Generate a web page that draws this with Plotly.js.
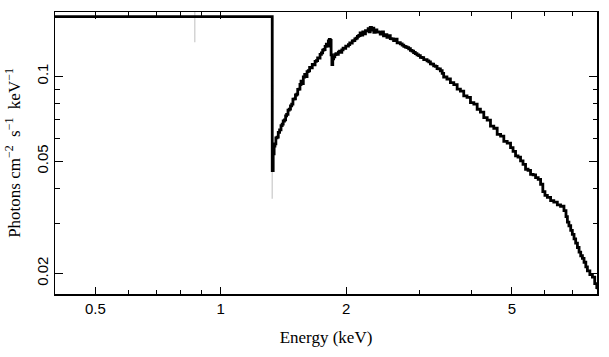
<!DOCTYPE html>
<html>
<head>
<meta charset="utf-8">
<script src="https://cdn.plot.ly/plotly-3.0.1.min.js"></script>
<style>html,body{margin:0;padding:0;background:#fff;}#chart{width:609px;height:357px;}</style>
</head>
<body>
<div id="chart"></div>
<script>
// Energy (keV) bin starts and unfolded flux (photons cm^-2 s^-1 keV^-1)
const energy = [
  0.39, 1.329, 1.336, 1.343, 1.349, 1.356, 1.365, 1.374, 1.384, 1.395, 1.404, 1.412,
  1.422, 1.431, 1.439, 1.450, 1.460, 1.470, 1.480, 1.490, 1.500, 1.511, 1.522, 1.530,
  1.540, 1.549, 1.558, 1.566, 1.578, 1.590, 1.600, 1.611, 1.622, 1.634, 1.646, 1.658,
  1.671, 1.684, 1.696, 1.708, 1.720, 1.731, 1.744, 1.756, 1.768, 1.780, 1.792, 1.802,
  1.812, 1.822, 1.831, 1.840, 1.848, 1.857, 1.866, 1.878, 1.890, 1.902, 1.915, 1.928,
  1.940, 1.952, 1.966, 1.980, 1.995, 2.010, 2.025, 2.040, 2.055, 2.068, 2.082, 2.098,
  2.113, 2.128, 2.144, 2.160, 2.176, 2.192, 2.208, 2.225, 2.242, 2.258, 2.270, 2.284,
  2.300, 2.315, 2.330, 2.350, 2.370, 2.392, 2.414, 2.436, 2.458, 2.480, 2.505, 2.528,
  2.552, 2.575, 2.599, 2.625, 2.650, 2.675, 2.697, 2.725, 2.750, 2.775, 2.799, 2.825,
  2.852, 2.878, 2.903, 2.930, 2.958, 2.985, 3.013, 3.042, 3.070, 3.100, 3.127, 3.157,
  3.186, 3.215, 3.243, 3.275, 3.305, 3.335, 3.366, 3.400, 3.428, 3.490, 3.558, 3.625,
  3.693, 3.760, 3.830, 3.900, 3.975, 4.050, 4.125, 4.200, 4.279, 4.360, 4.440, 4.522,
  4.608, 4.695, 4.780, 4.870, 4.961, 5.030, 5.100, 5.170, 5.243, 5.315, 5.390, 5.465,
  5.541, 5.620, 5.697, 5.780, 5.857, 5.930, 6.000, 6.080, 6.191, 6.300, 6.425, 6.540,
  6.665, 6.740, 6.792, 6.850, 6.918, 6.980, 7.046, 7.110, 7.180, 7.245, 7.311, 7.380,
  7.447, 7.520, 7.586, 7.690, 7.800, 7.900, 7.990, 8.050
];
const flux = [
  0.1627, 0.0463, 0.0531, 0.0565, 0.0576, 0.0605, 0.0608, 0.0632, 0.0645, 0.0668, 0.0676, 0.0694,
  0.0700, 0.0724, 0.0733, 0.0758, 0.0765, 0.0785, 0.0796, 0.0830, 0.0832, 0.0858, 0.0864, 0.0898,
  0.0900, 0.0935, 0.0960, 0.0942, 0.0994, 0.1015, 0.0998, 0.1038, 0.1046, 0.1075, 0.1072, 0.1102,
  0.1098, 0.1130, 0.1136, 0.1162, 0.1160, 0.1196, 0.1210, 0.1238, 0.1244, 0.1276, 0.1300, 0.1278,
  0.1335, 0.1352, 0.1340, 0.1190, 0.1100, 0.1152, 0.1172, 0.1194, 0.1202, 0.1196, 0.1218, 0.1228,
  0.1216, 0.1240, 0.1258, 0.1255, 0.1280, 0.1278, 0.1294, 0.1314, 0.1312, 0.1336, 0.1338, 0.1358,
  0.1366, 0.1386, 0.1395, 0.1424, 0.1400, 0.1438, 0.1414, 0.1450, 0.1452, 0.1476, 0.1436, 0.1490,
  0.1458, 0.1480, 0.1432, 0.1460, 0.1436, 0.1434, 0.1412, 0.1438, 0.1392, 0.1404, 0.1374, 0.1394,
  0.1360, 0.1356, 0.1338, 0.1354, 0.1314, 0.1316, 0.1302, 0.1290, 0.1276, 0.1270, 0.1264, 0.1252,
  0.1236, 0.1228, 0.1214, 0.1204, 0.1190, 0.1184, 0.1166, 0.1164, 0.1146, 0.1146, 0.1134, 0.1124,
  0.1106, 0.1104, 0.1088, 0.1084, 0.1064, 0.1062, 0.1046, 0.1024, 0.0994, 0.0978, 0.0950, 0.0934,
  0.0900, 0.0886, 0.0852, 0.0842, 0.0806, 0.0796, 0.0764, 0.0746, 0.0713, 0.0699, 0.0666, 0.0654,
  0.0622, 0.0613, 0.0588, 0.0579, 0.0558, 0.0542, 0.0522, 0.0517, 0.0501, 0.0487, 0.0468, 0.0464,
  0.0449, 0.0447, 0.0437, 0.0431, 0.0414, 0.0390, 0.0378, 0.0372, 0.0362, 0.0358, 0.0350, 0.0346,
  0.0334, 0.0318, 0.0304, 0.0295, 0.0284, 0.0275, 0.0265, 0.0256, 0.0247, 0.0238, 0.0231, 0.0226,
  0.0219, 0.0211, 0.0204, 0.0198, 0.0194, 0.0184, 0.0178, 0.0175
];
// faint error bars visible beyond the line
const errEnergy = [0.866, 0.866, null, 1.329, 1.329];
const errFlux   = [0.132, 0.20, null, 0.0368, 0.0463];

const xTickVals = [0.5, 1, 2, 5];
const xTickText = ['0.5', '1', '2', '5'];
const xMinorVals = [0.4, 0.6, 0.7, 0.8, 0.9, 3, 4, 6, 7, 8];
const yTickVals = [0.02, 0.05, 0.1];
const yTickText = ['0.02', '0.05', '0.1'];
const yMinorVals = [0.03, 0.04, 0.06, 0.07, 0.08, 0.09];

const tickFont = {family: 'Liberation Sans, Arial, sans-serif', size: 15, color: '#000'};
const titleFont = {family: 'Liberation Serif, Times New Roman, serif', size: 17, color: '#000'};

const traces = [
  {x: errEnergy, y: errFlux, type: 'scatter', mode: 'lines',
   line: {color: '#d4d4d4', width: 1.5}, connectgaps: false, hoverinfo: 'skip'},
  {x: energy, y: flux, type: 'scatter', mode: 'lines',
   line: {color: '#000', width: 2.8, shape: 'hv'}}
];

const layout = {
  width: 609, height: 357,
  margin: {l: 55, r: 12, t: 12, b: 63},
  paper_bgcolor: '#fff', plot_bgcolor: '#fff',
  showlegend: false,
  xaxis: {
    type: 'log', range: [Math.log10(0.4), Math.log10(8)],
    tickmode: 'array', tickvals: xTickVals, ticktext: xTickText,
    ticks: 'inside', ticklen: 7, tickwidth: 1, tickcolor: '#000',
    minor: {tickmode: 'array', tickvals: xMinorVals, ticks: 'inside', ticklen: 4, tickwidth: 1, tickcolor: '#000', showgrid: false},
    showline: true, linecolor: '#000', linewidth: 1.5, mirror: 'allticks',
    showgrid: false, zeroline: false,
    tickfont: tickFont,
    title: {text: 'Energy (keV)', font: titleFont, standoff: 15}
  },
  yaxis: {
    type: 'log', range: [Math.log10(0.0169), Math.log10(0.169)],
    tickmode: 'array', tickvals: yTickVals, ticktext: yTickText,
    ticks: 'inside', ticklen: 8, tickwidth: 1, tickcolor: '#000',
    minor: {tickmode: 'array', tickvals: yMinorVals, ticks: 'inside', ticklen: 4.5, tickwidth: 1, tickcolor: '#000', showgrid: false},
    showline: true, linecolor: '#000', linewidth: 1.5, mirror: 'allticks',
    showgrid: false, zeroline: false,
    tickangle: -90,
    tickfont: tickFont,
    title: {text: 'Photons cm<sup>−2</sup>  s<sup>−1</sup>  keV<sup>−1</sup>', font: titleFont, standoff: 8}
  }
};

Plotly.newPlot('chart', traces, layout, {displayModeBar: false, staticPlot: true});
</script>
</body>
</html>
